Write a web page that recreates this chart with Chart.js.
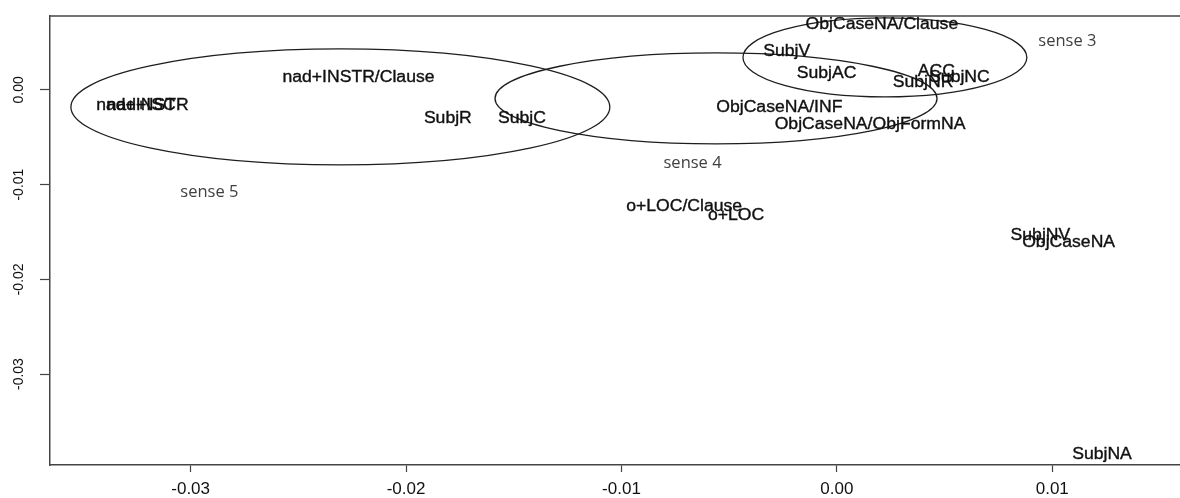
<!DOCTYPE html>
<html>
<head>
<meta charset="utf-8">
<script src="https://cdn.jsdelivr.net/npm/chart.js@4.4.1/dist/chart.umd.min.js"></script>
<style>
  html, body { margin: 0; padding: 0; background: #ffffff; }
  #wrap { width: 1180px; height: 498px; position: relative; }
</style>
</head>
<body>
<div id="wrap"><canvas id="c" width="1180" height="498"></canvas></div>
<script>
// ---- data ----
const pointLabels = [
  "nad+INSTR", "nad+ISC", "nad+INSTR/Clause", "SubjR", "SubjC",
  "ObjCaseNA/INF", "ObjCaseNA/ObjFormNA", "SubjV", "SubjAC", "ObjCaseNA/Clause",
  "ACC", "SubjNC", "SubjNR", "o+LOC/Clause", "o+LOC",
  "SubjNV", "ObjCaseNA", "SubjNA"
];
const pointX = [
  -0.03224, -0.03230, -0.02221, -0.01806, -0.01462,
  -0.00267, 0.00154, -0.00233, -0.00048, 0.00209,
  0.00462, 0.00569, 0.00400, -0.00709, -0.00468,
  0.00945, 0.01076, 0.01231
];
const pointY = [
  -0.00169, -0.00169, 0.00130, -0.00306, -0.00299,
  -0.00190, -0.00370, 0.00401, 0.00169, 0.00694,
  0.00190, 0.00127, 0.00074, -0.01232, -0.01330,
  -0.01534, -0.01612, -0.03854
];
const senseLabels = ["sense 3", "sense 4", "sense 5"];
const senseX = [0.01070, -0.00670, -0.02913];
const senseY = [0.00510, -0.00774, -0.01080];
// ellipses (centre and semi-axes, data units)
const ellCx = [-0.02305, -0.00561, 0.00223];
const ellCy = [-0.00180, -0.00090, 0.00343];
const ellRx = [0.01251, 0.01026, 0.00659];
const ellRy = [0.00612, 0.00480, 0.00417];
// axes
const xMin = -0.03653, xMax = 0.01593;
const yMin = -0.0396, yMax = 0.0078;
const tickStep = 0.01;

const fmt = v => (Math.abs(v) < 1e-12 ? "0.00" : v.toFixed(2));

const ellipsePlugin = {
  id: "ellipses",
  afterDatasetsDraw(chart) {
    const {ctx, scales: {x, y}, chartArea} = chart;
    ctx.save();
    ctx.beginPath();
    ctx.rect(chartArea.left, chartArea.top, chartArea.right - chartArea.left, chartArea.bottom - chartArea.top);
    ctx.clip();
    ctx.strokeStyle = "#1e1e1e";
    ctx.lineWidth = 1.3;
    for (let i = 0; i < ellCx.length; i++) {
      const px = x.getPixelForValue(ellCx[i]);
      const py = y.getPixelForValue(ellCy[i]);
      const rx = Math.abs(x.getPixelForValue(ellCx[i] + ellRx[i]) - px);
      const ry = Math.abs(y.getPixelForValue(ellCy[i] + ellRy[i]) - py);
      ctx.beginPath();
      ctx.ellipse(px, py, rx, ry, 0, 0, Math.PI * 2);
      ctx.stroke();
    }
    ctx.restore();
  }
};

const labelPlugin = {
  id: "textLabels",
  afterDatasetsDraw(chart) {
    const {ctx} = chart;
    ctx.save();
    // point labels
    const m0 = chart.getDatasetMeta(0);
    ctx.fillStyle = "#111111";
    ctx.strokeStyle = "#111111";
    ctx.lineWidth = 0.35;
    ctx.font = "16px 'Liberation Sans', Arial, sans-serif";
    ctx.textAlign = "center";
    ctx.textBaseline = "middle";
    m0.data.forEach((el, i) => {
      ctx.save();
      ctx.translate(el.x, el.y);
      ctx.scale(1.1, 1);
      ctx.fillText(pointLabels[i], 0, 0);
      ctx.strokeText(pointLabels[i], 0, 0);
      ctx.restore();
    });
    // sense labels
    const m1 = chart.getDatasetMeta(1);
    ctx.fillStyle = "#404040";
    ctx.font = "16.5px 'Open Sans', 'Noto Sans', sans-serif";
    m1.data.forEach((el, i) => {
      ctx.fillText(senseLabels[i], el.x, el.y);
    });
    ctx.restore();
  }
};

const frameTopPlugin = {
  id: "frameTop",
  afterDraw(chart) {
    const {ctx, chartArea} = chart;
    ctx.save();
    ctx.strokeStyle = "#444";
    ctx.lineWidth = 1.5;
    ctx.beginPath();
    ctx.moveTo(chartArea.left, chartArea.top);
    ctx.lineTo(chartArea.right, chartArea.top);
    ctx.stroke();
    ctx.restore();
  }
};

new Chart(document.getElementById("c"), {
  type: "scatter",
  data: {
    datasets: [
      { data: pointX.map((v, i) => ({x: v, y: pointY[i]})), pointRadius: 0, pointHoverRadius: 0 },
      { data: senseX.map((v, i) => ({x: v, y: senseY[i]})), pointRadius: 0, pointHoverRadius: 0 }
    ]
  },
  options: {
    responsive: false,
    animation: false,
    events: [],
    layout: { padding: { top: 16, right: 0, left: 0, bottom: 0 } },
    plugins: { legend: { display: false }, tooltip: { enabled: false } },
    scales: {
      x: {
        type: "linear",
        min: xMin, max: xMax,
        afterFit(s) { s.height = 33; },
        border: { display: true, color: "#444", width: 1.5 },
        grid: { drawOnChartArea: false, drawTicks: true, tickLength: 7, tickColor: "#444", tickWidth: 1.2 },
        ticks: {
          stepSize: tickStep, includeBounds: false, autoSkip: false,
          maxRotation: 0, minRotation: 0, padding: 7,
          color: "#111111",
          font: { family: "'Liberation Sans', Arial, sans-serif", size: 17 },
          callback: v => fmt(v)
        }
      },
      y: {
        type: "linear",
        min: yMin, max: yMax,
        afterFit(s) { s.width = 50; },
        border: { display: true, color: "#444", width: 1.5 },
        grid: { drawOnChartArea: false, drawTicks: true, tickLength: 10, tickColor: "#444", tickWidth: 1.2 },
        ticks: {
          stepSize: tickStep, includeBounds: false, autoSkip: false,
          minRotation: 90, maxRotation: 90, crossAlign: "center", padding: 5,
          color: "#111111",
          font: { family: "'Liberation Sans', Arial, sans-serif", size: 14 },
          callback: v => fmt(v)
        }
      }
    }
  },
  plugins: [ellipsePlugin, labelPlugin, frameTopPlugin]
});
</script>
</body>
</html>
